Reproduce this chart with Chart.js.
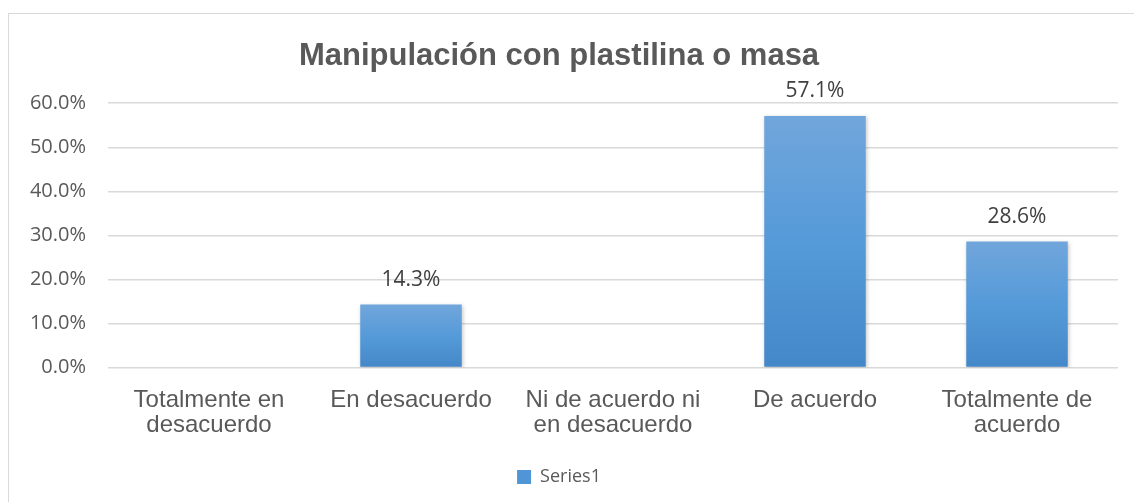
<!DOCTYPE html>
<html>
<head>
<meta charset="utf-8">
<script src="https://cdn.jsdelivr.net/npm/chart.js@4"></script>
<style>
  html, body { margin: 0; padding: 0; background: #fff; overflow: hidden; }
  #marco { position: absolute; left: 8px; top: 13px; width: 1140px; height: 500px; border: 1px solid #d9d9d9; box-sizing: border-box; }
  #lienzo { position: absolute; left: 0; top: 0; width: 1134px; height: 502px; }
</style>
</head>
<body>
<div id="marco"></div>
<div id="lienzo"><canvas id="grafico"></canvas></div>
<script>
// datos de la encuesta
const categorias = [
    ['Totalmente en', 'desacuerdo'],
    'En desacuerdo',
    ['Ni de acuerdo ni', 'en desacuerdo'],
    'De acuerdo',
    ['Totalmente de', 'acuerdo']
];
const valores = [0, 14.3, 0, 57.1, 28.6];
const ticksY = [0, 10, 20, 30, 40, 50, 60];
const nombreSerie = 'Series1';
const titulo = 'Manipulación con plastilina o masa';

// degradado de cada barra, desde arriba hasta la base
function colorBarra(ctx) {
    const chart = ctx.chart;
    if (!chart.chartArea || ctx.type !== 'data') return '#5b9bd5';
    const y = chart.scales.y;
    const arriba = y.getPixelForValue(ctx.parsed.y);
    const base = y.getPixelForValue(0);
    if (base - arriba < 1) return '#5b9bd5';
    const g = chart.ctx.createLinearGradient(0, arriba, 0, base);
    g.addColorStop(0, '#71a6db');
    g.addColorStop(0.5, '#559ad9');
    g.addColorStop(1, '#4588c9');
    return g;
}

const sombraBarras = {
    id: 'sombraBarras',
    beforeDatasetDraw(chart) {
        const c = chart.ctx;
        c.save();
        c.shadowColor = 'rgba(0,0,0,0.22)';
        c.shadowBlur = 4;
        c.shadowOffsetX = 1;
        c.shadowOffsetY = 1;
    },
    afterDatasetDraw(chart) { chart.ctx.restore(); }
};

const etiquetas = {
    id: 'etiquetas',
    afterDatasetsDraw(chart) {
        const c = chart.ctx;
        const meta = chart.getDatasetMeta(0);
        c.save();
        c.font = '21px "Open Sans", sans-serif';
        c.fillStyle = '#404040';
        c.textAlign = 'center';
        c.textBaseline = 'middle';
        meta.data.forEach((barra, i) => {
            if (!valores[i]) return;
            c.fillText(valores[i].toFixed(1) + '%', barra.x, barra.y - 25);
        });
        c.restore();
    }
};

new Chart(document.getElementById('grafico'), {
    type: 'bar',
    data: {
        labels: categorias,
        datasets: [{
            label: nombreSerie,
            data: valores,
            backgroundColor: colorBarra,
            borderWidth: 0,
            barPercentage: 0.67,
            categoryPercentage: 0.75
        }]
    },
    options: {
        responsive: true,
        maintainAspectRatio: false,
        animation: false,
        layout: { padding: { top: 21, right: 16, left: 0, bottom: 6 } },
        scales: {
            y: {
                min: 0,
                max: 60,
                afterBuildTicks: s => { s.ticks = ticksY.map(v => ({ value: v })); },
                afterFit: s => { s.width = 108; },
                border: { display: false },
                grid: { color: '#d9d9d9', lineWidth: 1.5, drawTicks: false },
                ticks: {
                    padding: 22,
                    color: '#595959',
                    font: { family: '"Open Sans", sans-serif', size: 20 },
                    callback: v => v.toFixed(1) + '%'
                }
            },
            x: {
                border: { display: false },
                grid: { display: false },
                ticks: {
                    padding: 12,
                    color: '#595959',
                    maxRotation: 0,
                    autoSkip: false,
                    font: { family: '"Liberation Sans", Arial, sans-serif', size: 24, lineHeight: 1.05 }
                }
            }
        },
        plugins: {
            title: {
                display: true,
                text: titulo,
                color: '#595959',
                font: { family: '"Liberation Sans", Arial, sans-serif', size: 31, weight: 'bold' },
                padding: { top: 17, bottom: 28 }
            },
            legend: {
                position: 'bottom',
                labels: {
                    boxWidth: 14,
                    boxHeight: 14,
                    color: '#595959',
                    padding: 18,
                    font: { family: '"Open Sans", sans-serif', size: 18 },
                    generateLabels: () => [{ text: nombreSerie, fillStyle: '#5096d6', strokeStyle: '#5096d6', lineWidth: 0, fontColor: '#595959' }]
                }
            },
            tooltip: { enabled: false }
        }
    },
    plugins: [sombraBarras, etiquetas]
});
</script>
</body>
</html>
